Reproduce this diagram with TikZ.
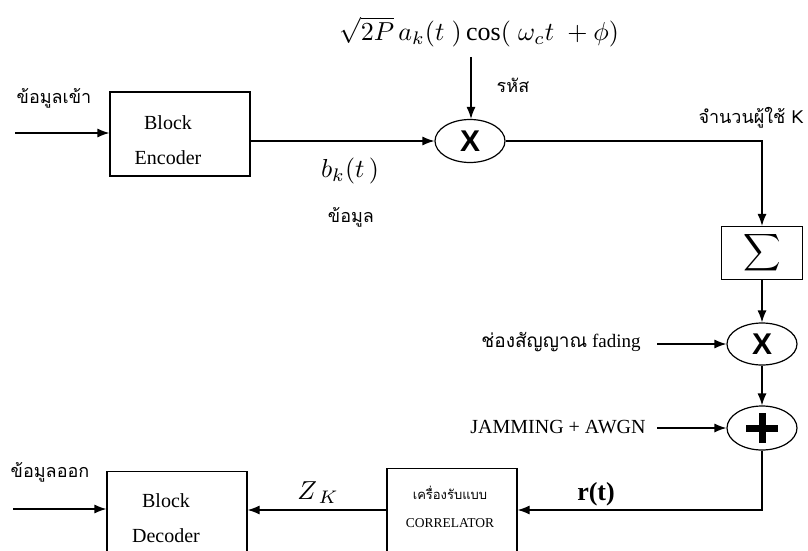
\documentclass[tikz,border=0pt]{standalone}
\usepackage{graphicx}
\usepackage{fontspec}
\setmainfont{Liberation Serif}
\newfontfamily\thaifont[Script=Thai]{Loma}
\newfontfamily\xsans{Liberation Sans}
\usetikzlibrary{shapes.geometric,arrows.meta}
\newcommand{\mathbigx}[1]{\scalebox{2.6}{#1}}
\begin{document}
\begin{tikzpicture}[x=1pt,y=-1pt,
  line width=1.2pt,
  arr/.style={-{Latex[length=12pt,width=9pt]}},
  blk/.style={draw,rectangle,inner sep=0pt},
  oval/.style={draw,ellipse,minimum width=70pt,minimum height=43pt,inner sep=0pt,
    font=\xsans\bfseries\fontsize{30}{30}\selectfont},
  rm/.style={inner sep=0pt,font=\fontsize{20}{24}\selectfont},
  sm/.style={inner sep=0pt,font=\fontsize{13.5}{16}\selectfont},
  th/.style={inner sep=0pt,font=\thaifont\fontsize{18}{22}\selectfont},
  thsm/.style={inner sep=0pt,font=\thaifont\fontsize{13}{16}\selectfont},
  mth/.style={inner sep=0pt}]
\useasboundingbox (0,0) rectangle (808,551);
\clip (0,0) rectangle (808,551);

% ---------- transmitter ----------
\node[th] (lin) at (54,98) {ข้อมูลเข้า};
\coordinate (in0) at (15,133);
\node[blk,minimum width=140pt,minimum height=84pt] (enc) at (180,134) {};
\node[rm,anchor=base] (enc1) at (168,129) {Block};
\node[rm,anchor=base] (enc2) at (168,164) {Encoder};
\draw[arr] (in0) -- (in0 -| enc.west);

\node[oval] (m1) at (470,141) {X};
\node[mth] (frm) at (479,32) {\mathbigx{$\sqrt{2P}\,a_k(t\;)\cos(\;\omega_c t\;+\phi)$}};
\coordinate (ftop) at (471,57);
\draw[arr] (ftop) -- (ftop |- m1.north);
\node[th] (rhs) at (513,85) {รหัส};

\draw[arr] (enc.east |- m1) -- (m1.west);
\node[mth] (bk) at (350,171) {\mathbigx{$b_k(t\,)$}};
\node[th] (dat) at (351,217) {ข้อมูล};

\node[blk,minimum width=81pt,minimum height=53pt] (sum) at (762,253)
  {\scalebox{2.6}{$\displaystyle\sum$}};
\node[th] (users) at (751,118) {จำนวนผู้ใช้ K};
\draw[arr] (m1.east) -| (sum.north);

% ---------- channel ----------
\node[oval,minimum height=42pt] (m2) at (762,344) {X};
\node[oval,minimum height=44pt] (pl) at (762,428) {};
\draw[line width=7pt] ([xshift=-16pt]pl.center) -- ([xshift=16pt]pl.center);
\draw[line width=7pt] ([yshift=-15pt]pl.center) -- ([yshift=15pt]pl.center);
\draw[arr] (sum.south) -- (m2.north);
\draw[arr] (m2.south) -- (pl.north);

\node[inner sep=0pt,font=\fontsize{19}{22}\selectfont] (fad) at (561,342) {{\thaifont ช่องสัญญาณ} fading};
\coordinate (fa0) at (657,344);
\draw[arr] (fa0) -- (m2.west);
\node[inner sep=0pt,font=\fontsize{20}{22}\selectfont] (jam) at (558,427) {JAMMING + AWGN};
\coordinate (ja0) at (657,428);
\draw[arr] (ja0) -- (pl.west);

% ---------- receiver ----------
\node[blk,anchor=north,minimum width=130pt,minimum height=100pt] (corr) at (452,468) {};
\node[thsm] (corr1) at (450,493) {เครื่องรับแบบ};
\node[sm] (corr2) at (450,523) {CORRELATOR};
\coordinate (rc) at (762,510);
\draw[arr] (pl.south) -- (rc) -- (rc -| corr.east);
\node[inner sep=0pt,font=\bfseries\fontsize{26}{30}\selectfont] (rt) at (596,494) {r(t)};

\node[blk,anchor=north,minimum width=140pt,minimum height=100pt] (dec) at (177,471) {};
\node[rm,anchor=base] (dec1) at (166,507) {Block};
\node[rm,anchor=base] (dec2) at (166,542) {Decoder};
\draw[arr] (corr.west |- rc) -- (dec.east |- rc);
\node[mth] (zk) at (318,493) {\mathbigx{$Z_{\,K}$}};

\node[th] (lout) at (50,472) {ข้อมูลออก};
\coordinate (o0) at (13,509);
\draw[arr] (o0) -- (o0 -| dec.west);
\end{tikzpicture}
\end{document}
